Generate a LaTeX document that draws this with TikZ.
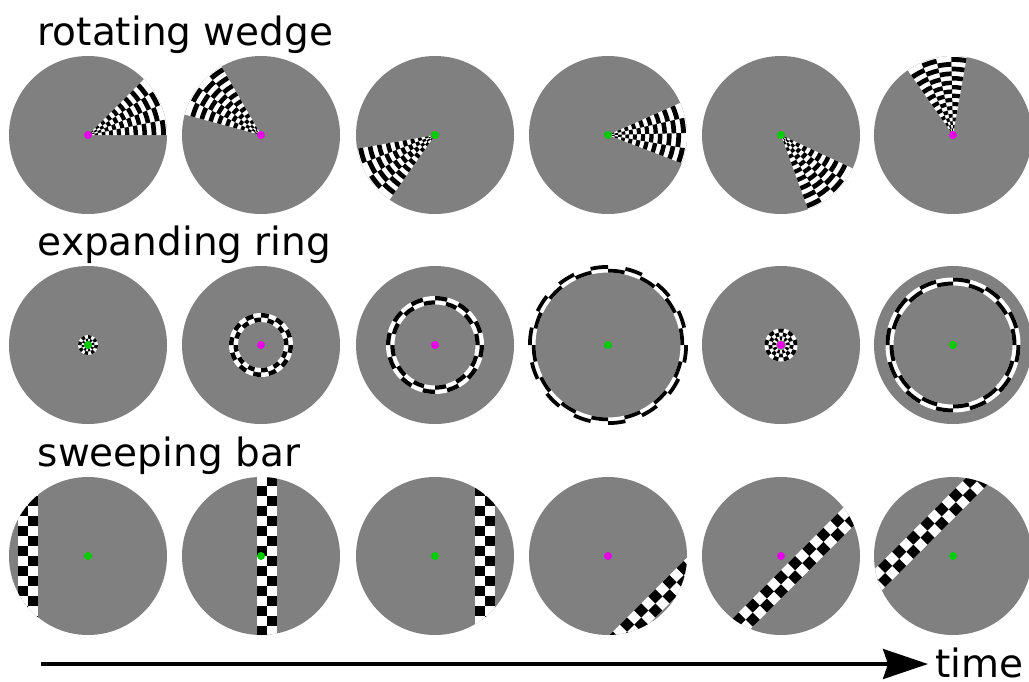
\documentclass[tikz,border=0pt]{standalone}
\usepackage{fontspec}
\setmainfont{DejaVu Sans}
\usetikzlibrary{arrows.meta}
\definecolor{bg}{HTML}{808080}
\definecolor{dotmag}{HTML}{E800E8}
\definecolor{dotgrn}{HTML}{00CC00}
\tikzset{
  disc/.style={circle, fill=bg, minimum size=158pt, inner sep=0pt, draw=none},
  fixdot/.style={circle, minimum size=8pt, inner sep=0pt, draw=none},
  rowtitle/.style={anchor=base west, inner sep=0pt, font=\fontsize{39}{47}\selectfont},
  timearrow/.style={line width=3.3pt, -{Stealth[length=45pt,width=30pt,inset=5pt]}},
}
% wedge: center, a1, a2
\newcommand\wedgecheck[3]{%
  \begin{scope}[shift={(#1.center)}]
    \fill[white] (0,0) -- (#2:79) arc[start angle=#2, end angle=#3, radius=79] -- cycle;
    \foreach \i in {0,...,18} {
      \foreach \j in {0,...,3} {
        \pgfmathtruncatemacro\parity{mod(\i+\j,2)}
        \ifnum\parity=0
          \pgfmathsetmacro\ra{78*(\i/19)*(0.8+0.2*\i/19)}
          \pgfmathsetmacro\rb{78*((\i+1)/19)*(0.8+0.2*(\i+1)/19)}
          \pgfmathsetmacro\aa{#2+(#3-#2)*\j/4}
          \pgfmathsetmacro\ab{#2+(#3-#2)*(\j+1)/4}
          \fill[black] (\aa:\ra) arc[start angle=\aa, end angle=\ab, radius=\ra]
            -- (\ab:\rb) arc[start angle=\ab, end angle=\aa, radius=\rb] -- cycle;
        \fi
      }
    }
  \end{scope}}
% ring: center, rin, rout, nseg, nlayers
\newcommand\ringcheck[5]{%
  \begin{scope}[shift={(#1.center)}]
    \fill[white, even odd rule] (0,0) circle[radius=#3] (0,0) circle[radius=#2];
    \pgfmathtruncatemacro\nl{#5-1}
    \pgfmathtruncatemacro\ns{#4-1}
    \foreach \i in {0,...,\nl} {
      \foreach \j in {0,...,\ns} {
        \pgfmathtruncatemacro\parity{mod(\i+\j,2)}
        \ifnum\parity=0
          \pgfmathsetmacro\ra{#2+(#3-#2)*\i/#5}
          \pgfmathsetmacro\rb{#2+(#3-#2)*(\i+1)/#5}
          \pgfmathsetmacro\aa{360*\j/#4}
          \pgfmathsetmacro\ab{360*(\j+1)/#4}
          \fill[black] (\aa:\ra) arc[start angle=\aa, end angle=\ab, radius=\ra]
            -- (\ab:\rb) arc[start angle=\ab, end angle=\aa, radius=\rb] -- cycle;
        \fi
      }
    }
  \end{scope}}
% bar: center, rotation, u0
\newcommand\barcheck[3]{%
  \begin{scope}
    \clip (#1.center) circle[radius=79];
    \begin{scope}[shift={(#1.center)}, rotate=#2]
      \fill[white] (#3,-90) rectangle (#3+20,90);
      \foreach \i in {0,1} {
        \foreach \j in {-9,...,8} {
          \pgfmathtruncatemacro\parity{mod(\i+\j+20,2)}
          \ifnum\parity=0
            \fill[black] (#3+10*\i,10*\j) rectangle ++(10,10);
          \fi
        }
      }
    \end{scope}
  \end{scope}}

\begin{document}
\begin{tikzpicture}[x=1pt,y=1pt]
  \useasboundingbox (0,0) rectangle (1029,-681);
  \fill[white] (0,0) rectangle (1029,-681);

  % titles
  \node[rowtitle] (t1) at (37.5,-45) {rotating wedge};
  \node[rowtitle] (t2) at (37.5,-255) {expanding ring};
  \node[rowtitle] (t3) at (37.5,-466) {sweeping bar};

  % discs
  \foreach \n/\x in {1/88, 2/261, 3/435, 4/608, 5/781, 6/953} {
    \node[disc] (w\n) at (\x,-135) {};
    \node[disc] (r\n) at (\x,-345) {};
    \node[disc] (b\n) at (\x,-556) {};
  }

  % rotating wedge
  \wedgecheck{w1}{0}{45}
  \wedgecheck{w2}{120}{165}
  \wedgecheck{w3}{190}{235}
  \wedgecheck{w4}{-21}{24}
  \wedgecheck{w5}{-70}{-25}
  \wedgecheck{w6}{80}{125}

  % expanding ring
  \ringcheck{r1}{3}{10}{16}{2}
  \ringcheck{r2}{23}{32}{24}{2}
  \ringcheck{r3}{40.5}{49}{24}{2}
  \ringcheck{r4}{72.5}{80}{28}{2}
  \ringcheck{r5}{5}{16.5}{18}{3}
  \ringcheck{r6}{59.5}{67.5}{24}{2}

  % sweeping bar
  \barcheck{b1}{0}{-70}
  \barcheck{b2}{0}{-4}
  \barcheck{b3}{0}{40}
  \barcheck{b4}{-45}{57}
  \barcheck{b5}{-45}{10}
  \barcheck{b6}{-45}{-46}

  % fixation dots
  \foreach \n/\c in {1/dotmag, 2/dotmag, 3/dotgrn, 4/dotgrn, 5/dotgrn, 6/dotmag}
    \node[fixdot, fill=\c] (wd\n) at (w\n.center) {};
  \foreach \n/\c in {1/dotgrn, 2/dotmag, 3/dotmag, 4/dotgrn, 5/dotmag, 6/dotgrn}
    \node[fixdot, fill=\c] (rd\n) at (r\n.center) {};
  \foreach \n/\c in {1/dotgrn, 2/dotgrn, 3/dotgrn, 4/dotmag, 5/dotmag, 6/dotgrn}
    \node[fixdot, fill=\c] (bd\n) at (b\n.center) {};

  % time arrow
  \coordinate (tstart) at (41,-664);
  \coordinate (tend) at (928,-664);
  \node[rowtitle] (time) at (935,-677) {time};
  \draw[timearrow] (tstart) -- (tend);
\end{tikzpicture}
\end{document}
